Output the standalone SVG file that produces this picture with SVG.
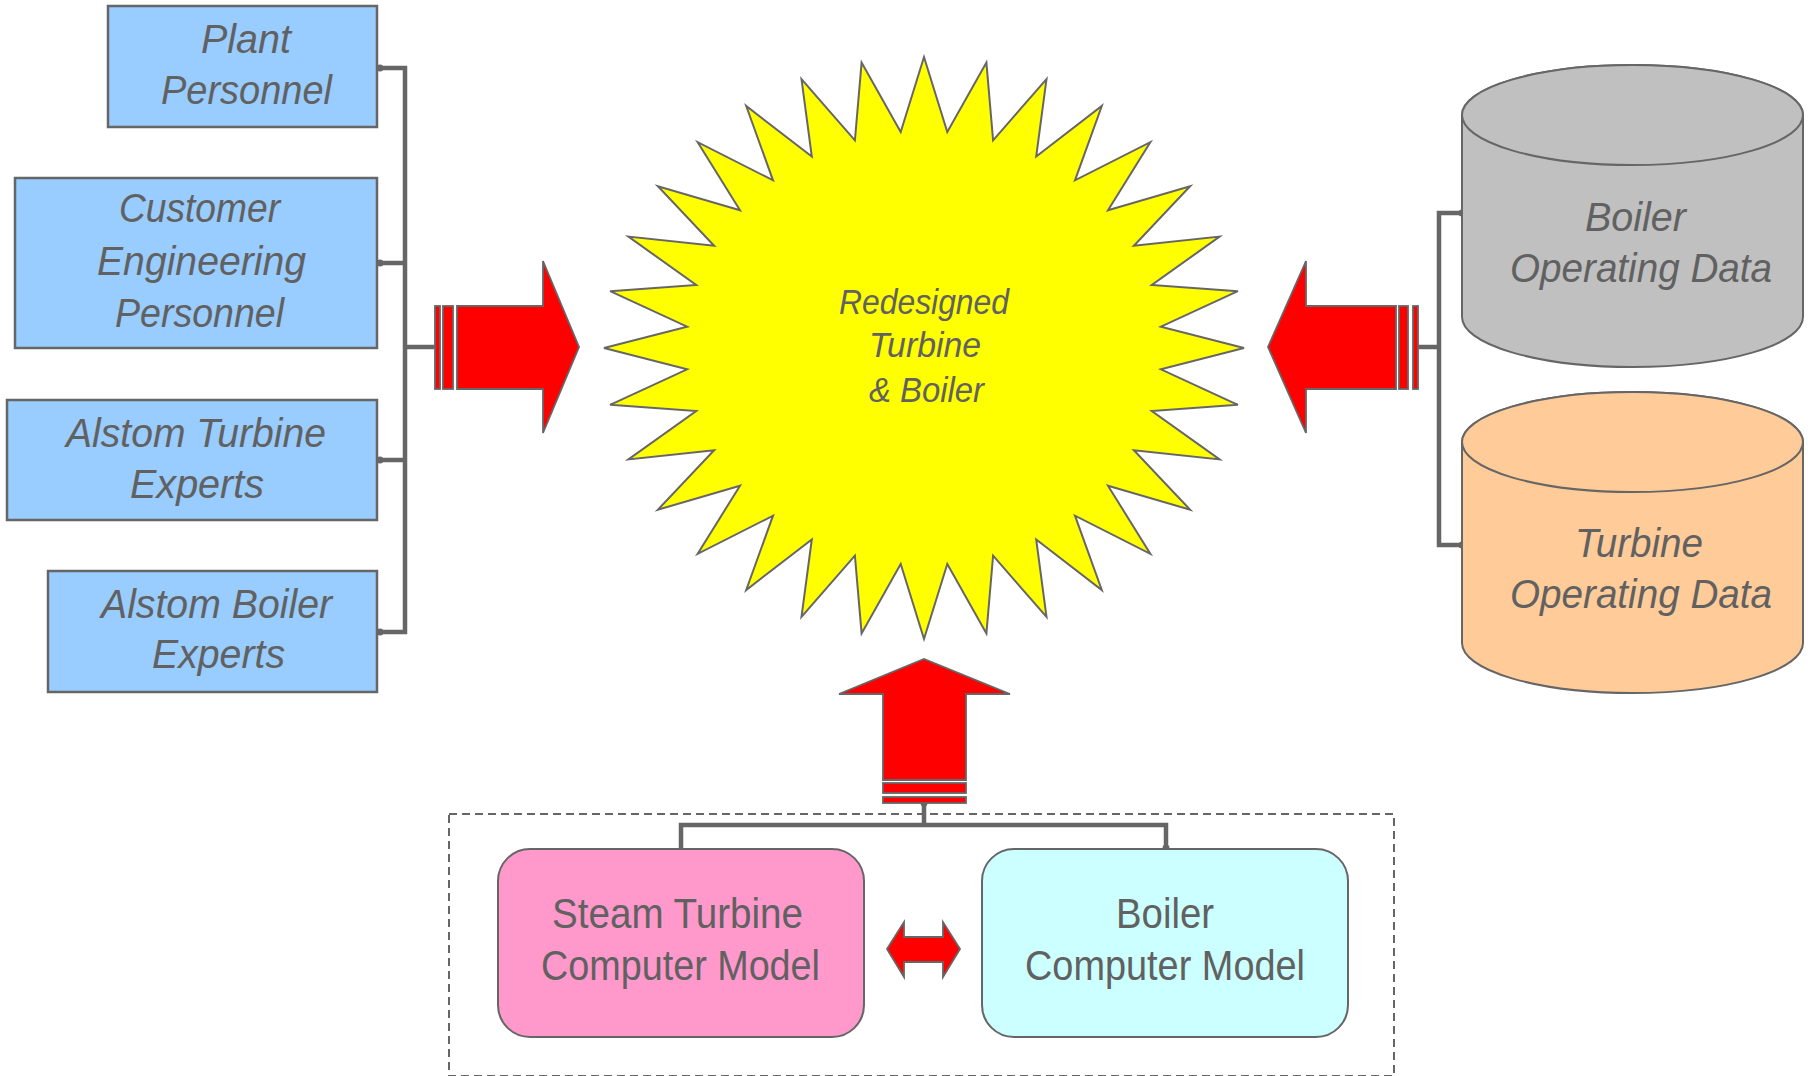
<svg xmlns="http://www.w3.org/2000/svg" width="1808" height="1076" viewBox="0 0 1808 1076">
<style>
.box{fill:#99CCFF;stroke:#666666;stroke-width:2.5}
.t{font-family:"Liberation Sans",Arial,sans-serif;fill:#616161}
.it{font-style:italic}
.conn{fill:none;stroke:#666666;stroke-width:4.5;stroke-linejoin:miter}
.red{fill:#FF0000;stroke:#666666;stroke-width:1.8}
.dot{fill:#666666}
</style>
<rect width="1808" height="1076" fill="#FFFFFF"/>

<g id="connectors">
<path class="conn" d="M380,68 H405 V632 H380 M380,263 H405 M380,460 H405 M405,347 H435"/>
<path class="conn" d="M1462,213 H1439 V545 H1462 M1418,347 H1439"/>
<path class="conn" d="M924,803 V825 M681,848 V825 H1166 V848"/>
<circle class="dot" cx="380" cy="68" r="3.5"/>
<circle class="dot" cx="380" cy="263" r="3.5"/>
<circle class="dot" cx="380" cy="460" r="3.5"/>
<circle class="dot" cx="380" cy="632" r="3.5"/>
<circle class="dot" cx="1462" cy="213" r="3.5"/>
<circle class="dot" cx="1462" cy="545" r="3.5"/>
<circle class="dot" cx="924" cy="803" r="3.5"/>
<circle class="dot" cx="1166" cy="848" r="3.5"/>
</g>

<g id="plant-personnel">
<rect class="box" x="108" y="6" width="269" height="121"/>
<text class="t it" font-size="41" x="201" y="53" textLength="90" lengthAdjust="spacingAndGlyphs">Plant</text>
<text class="t it" font-size="41" x="161" y="104" textLength="171" lengthAdjust="spacingAndGlyphs">Personnel</text>
</g>
<g id="customer-engineering">
<rect class="box" x="15" y="178" width="362" height="170"/>
<text class="t it" font-size="41" x="119" y="222" textLength="161" lengthAdjust="spacingAndGlyphs">Customer</text>
<text class="t it" font-size="41" x="97" y="275" textLength="209" lengthAdjust="spacingAndGlyphs">Engineering</text>
<text class="t it" font-size="41" x="115" y="327" textLength="169" lengthAdjust="spacingAndGlyphs">Personnel</text>
</g>
<g id="alstom-turbine">
<rect class="box" x="7" y="400" width="370" height="120"/>
<text class="t it" font-size="41" x="66" y="447" textLength="260" lengthAdjust="spacingAndGlyphs">Alstom Turbine</text>
<text class="t it" font-size="41" x="130" y="498" textLength="134" lengthAdjust="spacingAndGlyphs">Experts</text>
</g>
<g id="alstom-boiler">
<rect class="box" x="48" y="571" width="329" height="121"/>
<text class="t it" font-size="41" x="101" y="618" textLength="231" lengthAdjust="spacingAndGlyphs">Alstom Boiler</text>
<text class="t it" font-size="41" x="152" y="668" textLength="133" lengthAdjust="spacingAndGlyphs">Experts</text>
</g>

<g id="left-arrow">
<rect class="red" x="435" y="306" width="5" height="83"/>
<rect class="red" x="443" y="306" width="10" height="83"/>
<path class="red" d="M457,306 H543 V261 L579,347 L543,433 V389 H457 Z"/>
</g>
<g id="right-arrow">
<rect class="red" x="1413" y="306" width="5" height="83"/>
<rect class="red" x="1399" y="306" width="9" height="83"/>
<path class="red" d="M1396,306 H1306 V261 L1268,347 L1306,433 V389 H1396 Z"/>
</g>
<g id="up-arrow">
<rect class="red" x="883" y="797" width="83" height="6"/>
<rect class="red" x="883" y="783" width="83" height="10"/>
<path class="red" d="M883,780 V694 H839 L924,659 L1010,694 H966 V780 Z"/>
</g>

<g id="redesigned">
<polygon fill="#FFFF00" stroke="#666666" stroke-width="2" points="1244,348 1160.9,326.7 1237.9,291.2 1151.8,285.0 1219.6,236.6 1133.9,245.7 1190.1,186.3 1108.0,210.3 1150.3,142.2 1075.0,180.3 1101.8,106.0 1036.2,156.6 1046.5,79.2 993.1,140.3 986.4,62.6 947.3,132.0 924,57 900.7,132.0 861.6,62.6 854.9,140.3 801.5,79.2 811.8,156.6 746.2,106.0 773.0,180.3 697.7,142.2 740.0,210.3 657.9,186.3 714.1,245.7 628.4,236.6 696.2,285.0 610.1,291.2 687.1,326.7 604,348 687.1,369.3 610.1,404.8 696.2,411.0 628.4,459.4 714.1,450.3 657.9,509.7 740.0,485.7 697.7,553.8 773.0,515.7 746.2,590.0 811.8,539.4 801.5,616.8 854.9,555.7 861.6,633.4 900.7,564.0 924,639 947.3,564.0 986.4,633.4 993.1,555.7 1046.5,616.8 1036.2,539.4 1101.8,590.0 1075.0,515.7 1150.3,553.8 1108.0,485.7 1190.1,509.7 1133.9,450.3 1219.6,459.4 1151.8,411.0 1237.9,404.8 1160.9,369.3"/>
<text class="t it" font-size="35" x="839" y="314" textLength="170" lengthAdjust="spacingAndGlyphs">Redesigned</text>
<text class="t it" font-size="35" x="869" y="357" textLength="112" lengthAdjust="spacingAndGlyphs">Turbine</text>
<text class="t it" font-size="35" x="869" y="402" textLength="115" lengthAdjust="spacingAndGlyphs">&amp; Boiler</text>
</g>

<g id="boiler-data">
<path d="M1462,115 A170.5,50 0 0 1 1803,115 V317 A170.5,50 0 0 1 1462,317 Z" fill="#C0C0C0" stroke="#666666" stroke-width="2"/>
<ellipse cx="1632.5" cy="115" rx="170.5" ry="50" fill="#C0C0C0" stroke="#666666" stroke-width="2"/>
<text class="t it" font-size="41" x="1585" y="231" textLength="101" lengthAdjust="spacingAndGlyphs">Boiler</text>
<text class="t it" font-size="41" x="1510" y="282" textLength="262" lengthAdjust="spacingAndGlyphs">Operating Data</text>
</g>
<g id="turbine-data">
<path d="M1462,442 A170.5,50 0 0 1 1803,442 V643 A170.5,50 0 0 1 1462,643 Z" fill="#FFCC99" stroke="#666666" stroke-width="2"/>
<ellipse cx="1632.5" cy="442" rx="170.5" ry="50" fill="#FFCC99" stroke="#666666" stroke-width="2"/>
<text class="t it" font-size="41" x="1575" y="557" textLength="128" lengthAdjust="spacingAndGlyphs">Turbine</text>
<text class="t it" font-size="41" x="1510" y="608" textLength="262" lengthAdjust="spacingAndGlyphs">Operating Data</text>
</g>

<g id="model-group">
<rect x="449" y="814" width="945" height="262" fill="none" stroke="#666666" stroke-width="2" stroke-dasharray="8,5"/>
</g>
<g id="steam-turbine-model">
<rect x="498" y="849" width="366" height="188" rx="32" fill="#FF99CC" stroke="#666666" stroke-width="2"/>
<text class="t" font-size="43" x="552" y="928" textLength="251" lengthAdjust="spacingAndGlyphs">Steam Turbine</text>
<text class="t" font-size="43" x="541" y="980" textLength="279" lengthAdjust="spacingAndGlyphs">Computer Model</text>
</g>
<g id="boiler-model">
<rect x="982" y="849" width="366" height="188" rx="32" fill="#CCFFFF" stroke="#666666" stroke-width="2"/>
<text class="t" font-size="43" x="1116" y="928" textLength="98" lengthAdjust="spacingAndGlyphs">Boiler</text>
<text class="t" font-size="43" x="1025" y="980" textLength="280" lengthAdjust="spacingAndGlyphs">Computer Model</text>
</g>
<g id="exchange-arrow">
<path class="red" d="M887,949 L904,922 V937 H943 V922 L960,949 L943,977 V962 H904 V977 Z"/>
</g>
</svg>
